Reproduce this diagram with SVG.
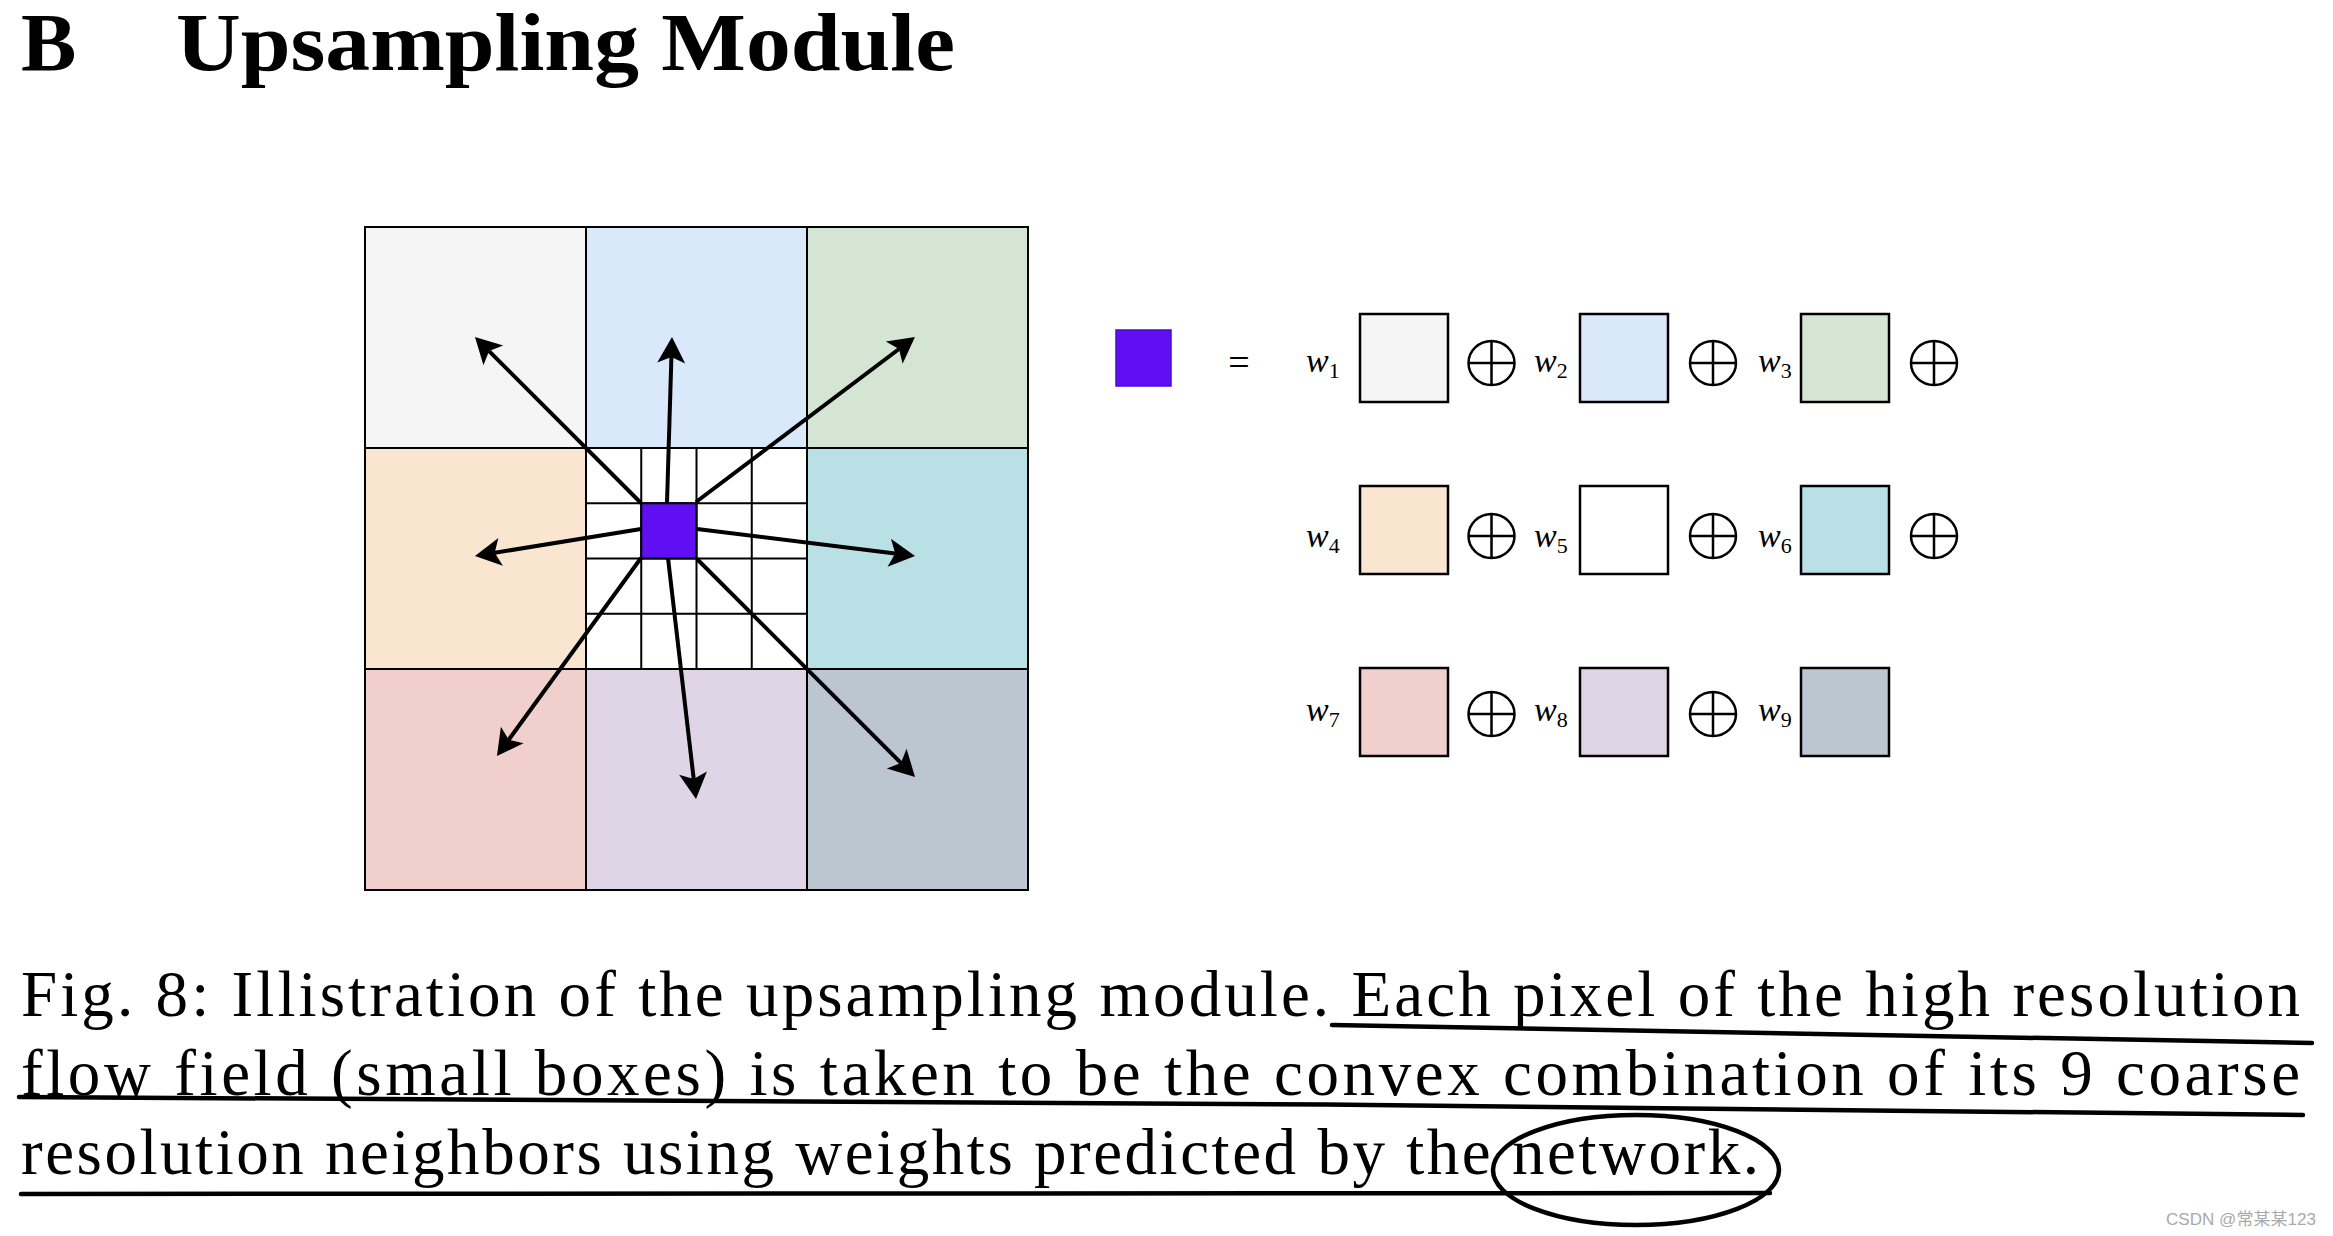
<svg xmlns="http://www.w3.org/2000/svg" width="2333" height="1236" viewBox="0 0 2333 1236">
<style>
.cell{stroke:#000;stroke-width:2}
.fine{stroke:#000;stroke-width:2;fill:none}
.box{stroke:#000;stroke-width:2.5}
.arrow{stroke:#000;stroke-width:4;fill:none;marker-end:url(#ah)}
.op{fill:none;stroke:#000;stroke-width:2.5}
.w{font-family:"Liberation Serif",serif;font-style:italic;font-size:34px;fill:#000}
.sub{font-family:"Liberation Serif",serif;font-style:normal;font-size:22px}
.cap{font-family:"Liberation Serif",serif;font-size:65px;fill:#000}
.ul{fill:none;stroke:#000;stroke-width:4.5;stroke-linecap:round}
</style>
<defs>
<marker id="ah" markerUnits="userSpaceOnUse" viewBox="-10 -16 34 32" markerWidth="34" markerHeight="32" refX="0" refY="0" orient="auto">
<path d="M20,0 L-6,-14 L0,0 L-6,14 Z" fill="#000"/>
</marker>
</defs>
<rect width="2333" height="1236" fill="#fff"/>

<g id="title">
<text x="21" y="70" font-family="Liberation Serif, serif" font-weight="bold" font-size="83">B</text>
<text x="176" y="70" font-family="Liberation Serif, serif" font-weight="bold" font-size="83" textLength="779" lengthAdjust="spacingAndGlyphs">Upsampling Module</text>
</g>

<g id="grid">
<rect id="c1" class="cell" x="365" y="227" width="221" height="221" fill="#f5f5f5"/>
<rect id="c2" class="cell" x="586" y="227" width="221" height="221" fill="#dae8fc"/>
<rect id="c3" class="cell" x="807" y="227" width="221" height="221" fill="#d5e5d4"/>
<rect id="c4" class="cell" x="365" y="448" width="221" height="221" fill="#fae6d0"/>
<rect id="c5" class="cell" x="586" y="448" width="221" height="221" fill="#ffffff"/>
<rect id="c6" class="cell" x="807" y="448" width="221" height="221" fill="#b9e0e5"/>
<rect id="c7" class="cell" x="365" y="669" width="221" height="221" fill="#f0cfcd"/>
<rect id="c8" class="cell" x="586" y="669" width="221" height="221" fill="#e0d5e6"/>
<rect id="c9" class="cell" x="807" y="669" width="221" height="221" fill="#bcc6d0"/>
<path class="fine" d="M641.25,448V669M696.5,448V669M751.75,448V669M586,503.25H807M586,558.5H807M586,613.75H807"/>
<rect id="pixel" x="641.25" y="503.25" width="55.25" height="55.25" fill="#5f0ff2" stroke="#000" stroke-width="2"/>
</g>

<g id="connectors">
<line class="arrow" x1="641" y1="503" x2="489.1" y2="351.1"/>
<line class="arrow" x1="667" y1="503" x2="671.4" y2="357"/>
<line class="arrow" x1="696" y1="502" x2="899" y2="349"/>
<line class="arrow" x1="641" y1="529" x2="494.7" y2="552.8"/>
<line class="arrow" x1="697" y1="529" x2="895.2" y2="553.5"/>
<line class="arrow" x1="641" y1="558" x2="508.7" y2="739.8"/>
<line class="arrow" x1="668" y1="558" x2="693.7" y2="779.1"/>
<line class="arrow" x1="697" y1="559" x2="900.9" y2="762.9"/>
</g>

<g id="pixel-eq">
<rect x="1116" y="330" width="55" height="56" fill="#5f0ff2" stroke="#4a0bd0" stroke-width="1.5"/>
<text x="1239" y="375" text-anchor="middle" font-family="Liberation Serif, serif" font-size="38">=</text>
</g>

<g id="row1">
<text class="w" x="1306" y="372">w<tspan class="sub" dy="6">1</tspan></text>
<rect id="b1" class="box" x="1360" y="314" width="88" height="88" fill="#f5f5f5"/>
<g class="op"><ellipse cx="1491.5" cy="363" rx="23" ry="22"/><path d="M1468.5,363H1514.5M1491.5,341V385"/></g>
<text class="w" x="1534" y="372">w<tspan class="sub" dy="6">2</tspan></text>
<rect id="b2" class="box" x="1580" y="314" width="88" height="88" fill="#dae8fc"/>
<g class="op"><ellipse cx="1713" cy="363" rx="23" ry="22"/><path d="M1690,363H1736M1713,341V385"/></g>
<text class="w" x="1758" y="372">w<tspan class="sub" dy="6">3</tspan></text>
<rect id="b3" class="box" x="1801" y="314" width="88" height="88" fill="#d5e5d4"/>
<g class="op"><ellipse cx="1934" cy="363" rx="23" ry="22"/><path d="M1911,363H1957M1934,341V385"/></g>
</g>

<g id="row2">
<text class="w" x="1306" y="547">w<tspan class="sub" dy="6">4</tspan></text>
<rect id="b4" class="box" x="1360" y="486" width="88" height="88" fill="#fae6d0"/>
<g class="op"><ellipse cx="1491.5" cy="536" rx="23" ry="22"/><path d="M1468.5,536H1514.5M1491.5,514V558"/></g>
<text class="w" x="1534" y="547">w<tspan class="sub" dy="6">5</tspan></text>
<rect id="b5" class="box" x="1580" y="486" width="88" height="88" fill="#ffffff"/>
<g class="op"><ellipse cx="1713" cy="536" rx="23" ry="22"/><path d="M1690,536H1736M1713,514V558"/></g>
<text class="w" x="1758" y="547">w<tspan class="sub" dy="6">6</tspan></text>
<rect id="b6" class="box" x="1801" y="486" width="88" height="88" fill="#b9e0e5"/>
<g class="op"><ellipse cx="1934" cy="536" rx="23" ry="22"/><path d="M1911,536H1957M1934,514V558"/></g>
</g>

<g id="row3">
<text class="w" x="1306" y="721">w<tspan class="sub" dy="6">7</tspan></text>
<rect id="b7" class="box" x="1360" y="668" width="88" height="88" fill="#f0cfcd"/>
<g class="op"><ellipse cx="1491.5" cy="714" rx="23" ry="22"/><path d="M1468.5,714H1514.5M1491.5,692V736"/></g>
<text class="w" x="1534" y="721">w<tspan class="sub" dy="6">8</tspan></text>
<rect id="b8" class="box" x="1580" y="668" width="88" height="88" fill="#e0d5e6"/>
<g class="op"><ellipse cx="1713" cy="714" rx="23" ry="22"/><path d="M1690,714H1736M1713,692V736"/></g>
<text class="w" x="1758" y="721">w<tspan class="sub" dy="6">9</tspan></text>
<rect id="b9" class="box" x="1801" y="668" width="88" height="88" fill="#bcc6d0"/>
</g>

<g id="caption">
<text class="cap" x="21" y="1016" textLength="2279" lengthAdjust="spacing">Fig. 8: Illistration of the upsampling module. Each pixel of the high resolution</text>
<text class="cap" x="21" y="1095" textLength="2279" lengthAdjust="spacing">flow field (small boxes) is taken to be the convex combination of its 9 coarse</text>
<text class="cap" x="21" y="1174" textLength="1738" lengthAdjust="spacing">resolution neighbors using weights predicted by the network.</text>
</g>

<g id="annotations">
<path class="ul" d="M1332,1025 C1500,1027 1900,1034 2312,1043"/>
<path class="ul" d="M19,1097 C600,1099 1600,1105 2303,1115"/>
<path class="ul" d="M21,1194 L1770,1193"/>
<ellipse cx="1636" cy="1170" rx="143" ry="55" fill="none" stroke="#000" stroke-width="4.5"/>
</g>

<text id="watermark" x="2166" y="1225" font-family="Liberation Sans, Noto Sans CJK SC, sans-serif" font-size="17" fill="#aaa" textLength="150" lengthAdjust="spacingAndGlyphs">CSDN @常某某123</text>
</svg>
